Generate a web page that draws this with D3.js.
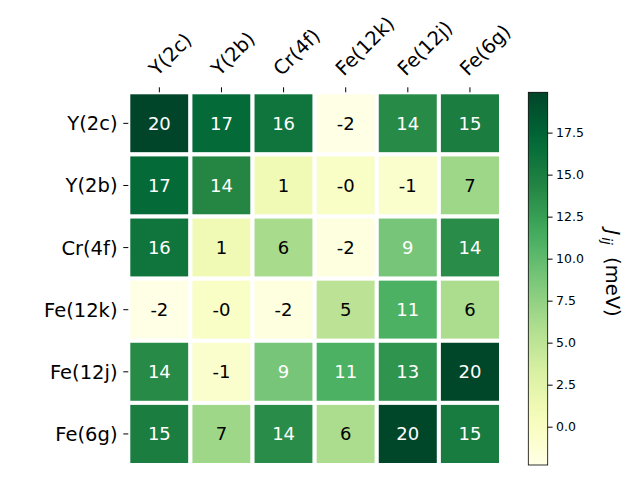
<!DOCTYPE html>
<html>
<head>
<meta charset="utf-8">
<script src="https://cdn.jsdelivr.net/npm/d3@7"></script>
<style>
  body { margin: 0; background: #fff; }
  svg { display: block; font-family: "DejaVu Sans", sans-serif; }
</style>
</head>
<body>
<svg width="640" height="480"></svg>
<script>
// sites along both axes
var sites = ["Y(2c)", "Y(2b)", "Cr(4f)", "Fe(12k)", "Fe(12j)", "Fe(6g)"];

// exchange constants J_ij in meV, one row per site
var rowY2c  = [19.90, 16.90, 15.85, -2.28, 13.95, 15.00];
var rowY2b  = [16.90, 14.20, 1.05, -0.30, -0.70, 6.80];
var rowCr4f = [15.85, 1.05, 6.30, -1.90, 8.90, 13.80];
var rowFe12k = [-2.28, -0.30, -1.90, 5.10, 11.00, 6.10];
var rowFe12j = [13.95, -0.70, 8.90, 11.00, 13.20, 19.85];
var rowFe6g = [15.00, 6.80, 13.80, 6.10, 19.85, 15.20];
var rows = [rowY2c, rowY2b, rowCr4f, rowFe12k, rowFe12j, rowFe6g];

var cbarTicks = [0.0, 2.5, 5.0, 7.5, 10.0, 12.5, 15.0, 17.5];

// matplotlib YlGn (linear segments between the brewer stops)
var ylgn = ["#ffffe5", "#f7fcb9", "#d9f0a3", "#addd8e", "#78c679",
            "#41ab5d", "#238443", "#006837", "#004529"];

var svg = d3.select("svg");

var cells = [];
rows.forEach(function (r, i) {
  r.forEach(function (v, j) {
    cells.push({ row: sites[i], col: sites[j], value: v });
  });
});

var vmin = d3.min(cells, function (d) { return d.value; }),
  vmax = d3.max(cells, function (d) { return d.value; });

var norm = d3.scaleLinear().domain([vmin, vmax]).range([0, 1]);
var ramp = d3.piecewise(d3.interpolateRgb, ylgn);
var color = function (v) { return ramp(Math.max(0, Math.min(1, norm(v)))); };

var plotLeft = 128.3, plotRight = 501, plotTop = 92.3, plotBottom = 465;

var x = d3.scaleBand().domain(sites).range([plotLeft, plotRight]);
var y = d3.scaleBand().domain(sites).range([plotTop, plotBottom]);

// cells
svg.append("g").selectAll("rect")
  .data(cells)
  .enter().append("rect")
  .attr("x", function (d) { return x(d.col); })
  .attr("y", function (d) { return y(d.row); })
  .attr("width", x.bandwidth())
  .attr("height", y.bandwidth())
  .attr("fill", function (d) { return color(d.value); })
  .attr("stroke", "#fff")
  .attr("stroke-width", 4);

// annotations
svg.append("g").selectAll("text")
  .data(cells)
  .enter().append("text")
  .attr("x", function (d) { return x(d.col) + x.bandwidth() / 2; })
  .attr("y", function (d) { return y(d.row) + y.bandwidth() / 2; })
  .attr("dy", "0.36em")
  .attr("text-anchor", "middle")
  .attr("font-size", "18px")
  .attr("fill", function (d) { return norm(d.value) > 0.5 ? "#fff" : "#000"; })
  .text(function (d) { return d.value.toFixed(0); });

// top axis
var topAxis = svg.append("g");
topAxis.selectAll("line")
  .data(sites)
  .enter().append("line")
  .attr("x1", function (d) { return x(d) + x.bandwidth() / 2; })
  .attr("x2", function (d) { return x(d) + x.bandwidth() / 2; })
  .attr("y1", plotTop - 5)
  .attr("y2", plotTop)
  .attr("stroke", "#000")
  .attr("stroke-width", 1);
topAxis.selectAll("text")
  .data(sites)
  .enter().append("text")
  .attr("transform", function (d) {
    return "translate(" + (x(d) + x.bandwidth() / 2 - 2) + "," + (plotTop - 15.5) + ") rotate(-45)";
  })
  .attr("font-size", "19.5px")
  .text(function (d) { return d; });

// left axis
var leftAxis = svg.append("g");
leftAxis.selectAll("line")
  .data(sites)
  .enter().append("line")
  .attr("x1", plotLeft - 5)
  .attr("x2", plotLeft)
  .attr("y1", function (d) { return y(d) + y.bandwidth() / 2; })
  .attr("y2", function (d) { return y(d) + y.bandwidth() / 2; })
  .attr("stroke", "#000")
  .attr("stroke-width", 1);
leftAxis.selectAll("text")
  .data(sites)
  .enter().append("text")
  .attr("x", plotLeft - 10.8)
  .attr("y", function (d) { return y(d) + y.bandwidth() / 2; })
  .attr("dy", "0.36em")
  .attr("text-anchor", "end")
  .attr("font-size", "19.5px")
  .text(function (d) { return d; });

// colorbar
var cbLeft = 528.3, cbWidth = 19.4;
var cy = d3.scaleLinear().domain([vmin, vmax]).range([plotBottom, plotTop]);

var grad = svg.append("defs").append("linearGradient")
  .attr("id", "cbgrad")
  .attr("x1", 0).attr("y1", 1).attr("x2", 0).attr("y2", 0);
grad.selectAll("stop")
  .data(d3.range(0, 1.0001, 0.05))
  .enter().append("stop")
  .attr("offset", function (t) { return t; })
  .attr("stop-color", function (t) { return ramp(t); });

svg.append("rect")
  .attr("x", cbLeft)
  .attr("y", plotTop)
  .attr("width", cbWidth)
  .attr("height", plotBottom - plotTop)
  .attr("fill", "url(#cbgrad)")
  .attr("stroke", "#000")
  .attr("stroke-width", 0.8);

svg.append("g")
  .attr("transform", "translate(" + (cbLeft + cbWidth) + ",0)")
  .call(d3.axisRight(cy).tickValues(cbarTicks).tickSize(4.9).tickPadding(3.5)
    .tickFormat(d3.format(".1f")))
  .call(function (g) {
    g.select(".domain").remove();
    g.selectAll("text").attr("font-size", "12.5px").attr("font-family", "DejaVu Sans").attr("fill", "#000");
    g.selectAll("line").attr("stroke", "#000");
  });

// colorbar label, reads top to bottom
var label = svg.append("text")
  .attr("transform", "translate(605.8,229.5) rotate(90)")
  .attr("font-size", "19.5px");
label.append("tspan").attr("font-style", "italic").text("J");
label.append("tspan").attr("font-style", "italic").attr("font-size", "13.6px")
  .attr("dx", "2").attr("dy", "4").text("ij");
label.append("tspan").attr("dx", "6").attr("dy", "-4").text(" (meV)");
</script>
</body>
</html>
